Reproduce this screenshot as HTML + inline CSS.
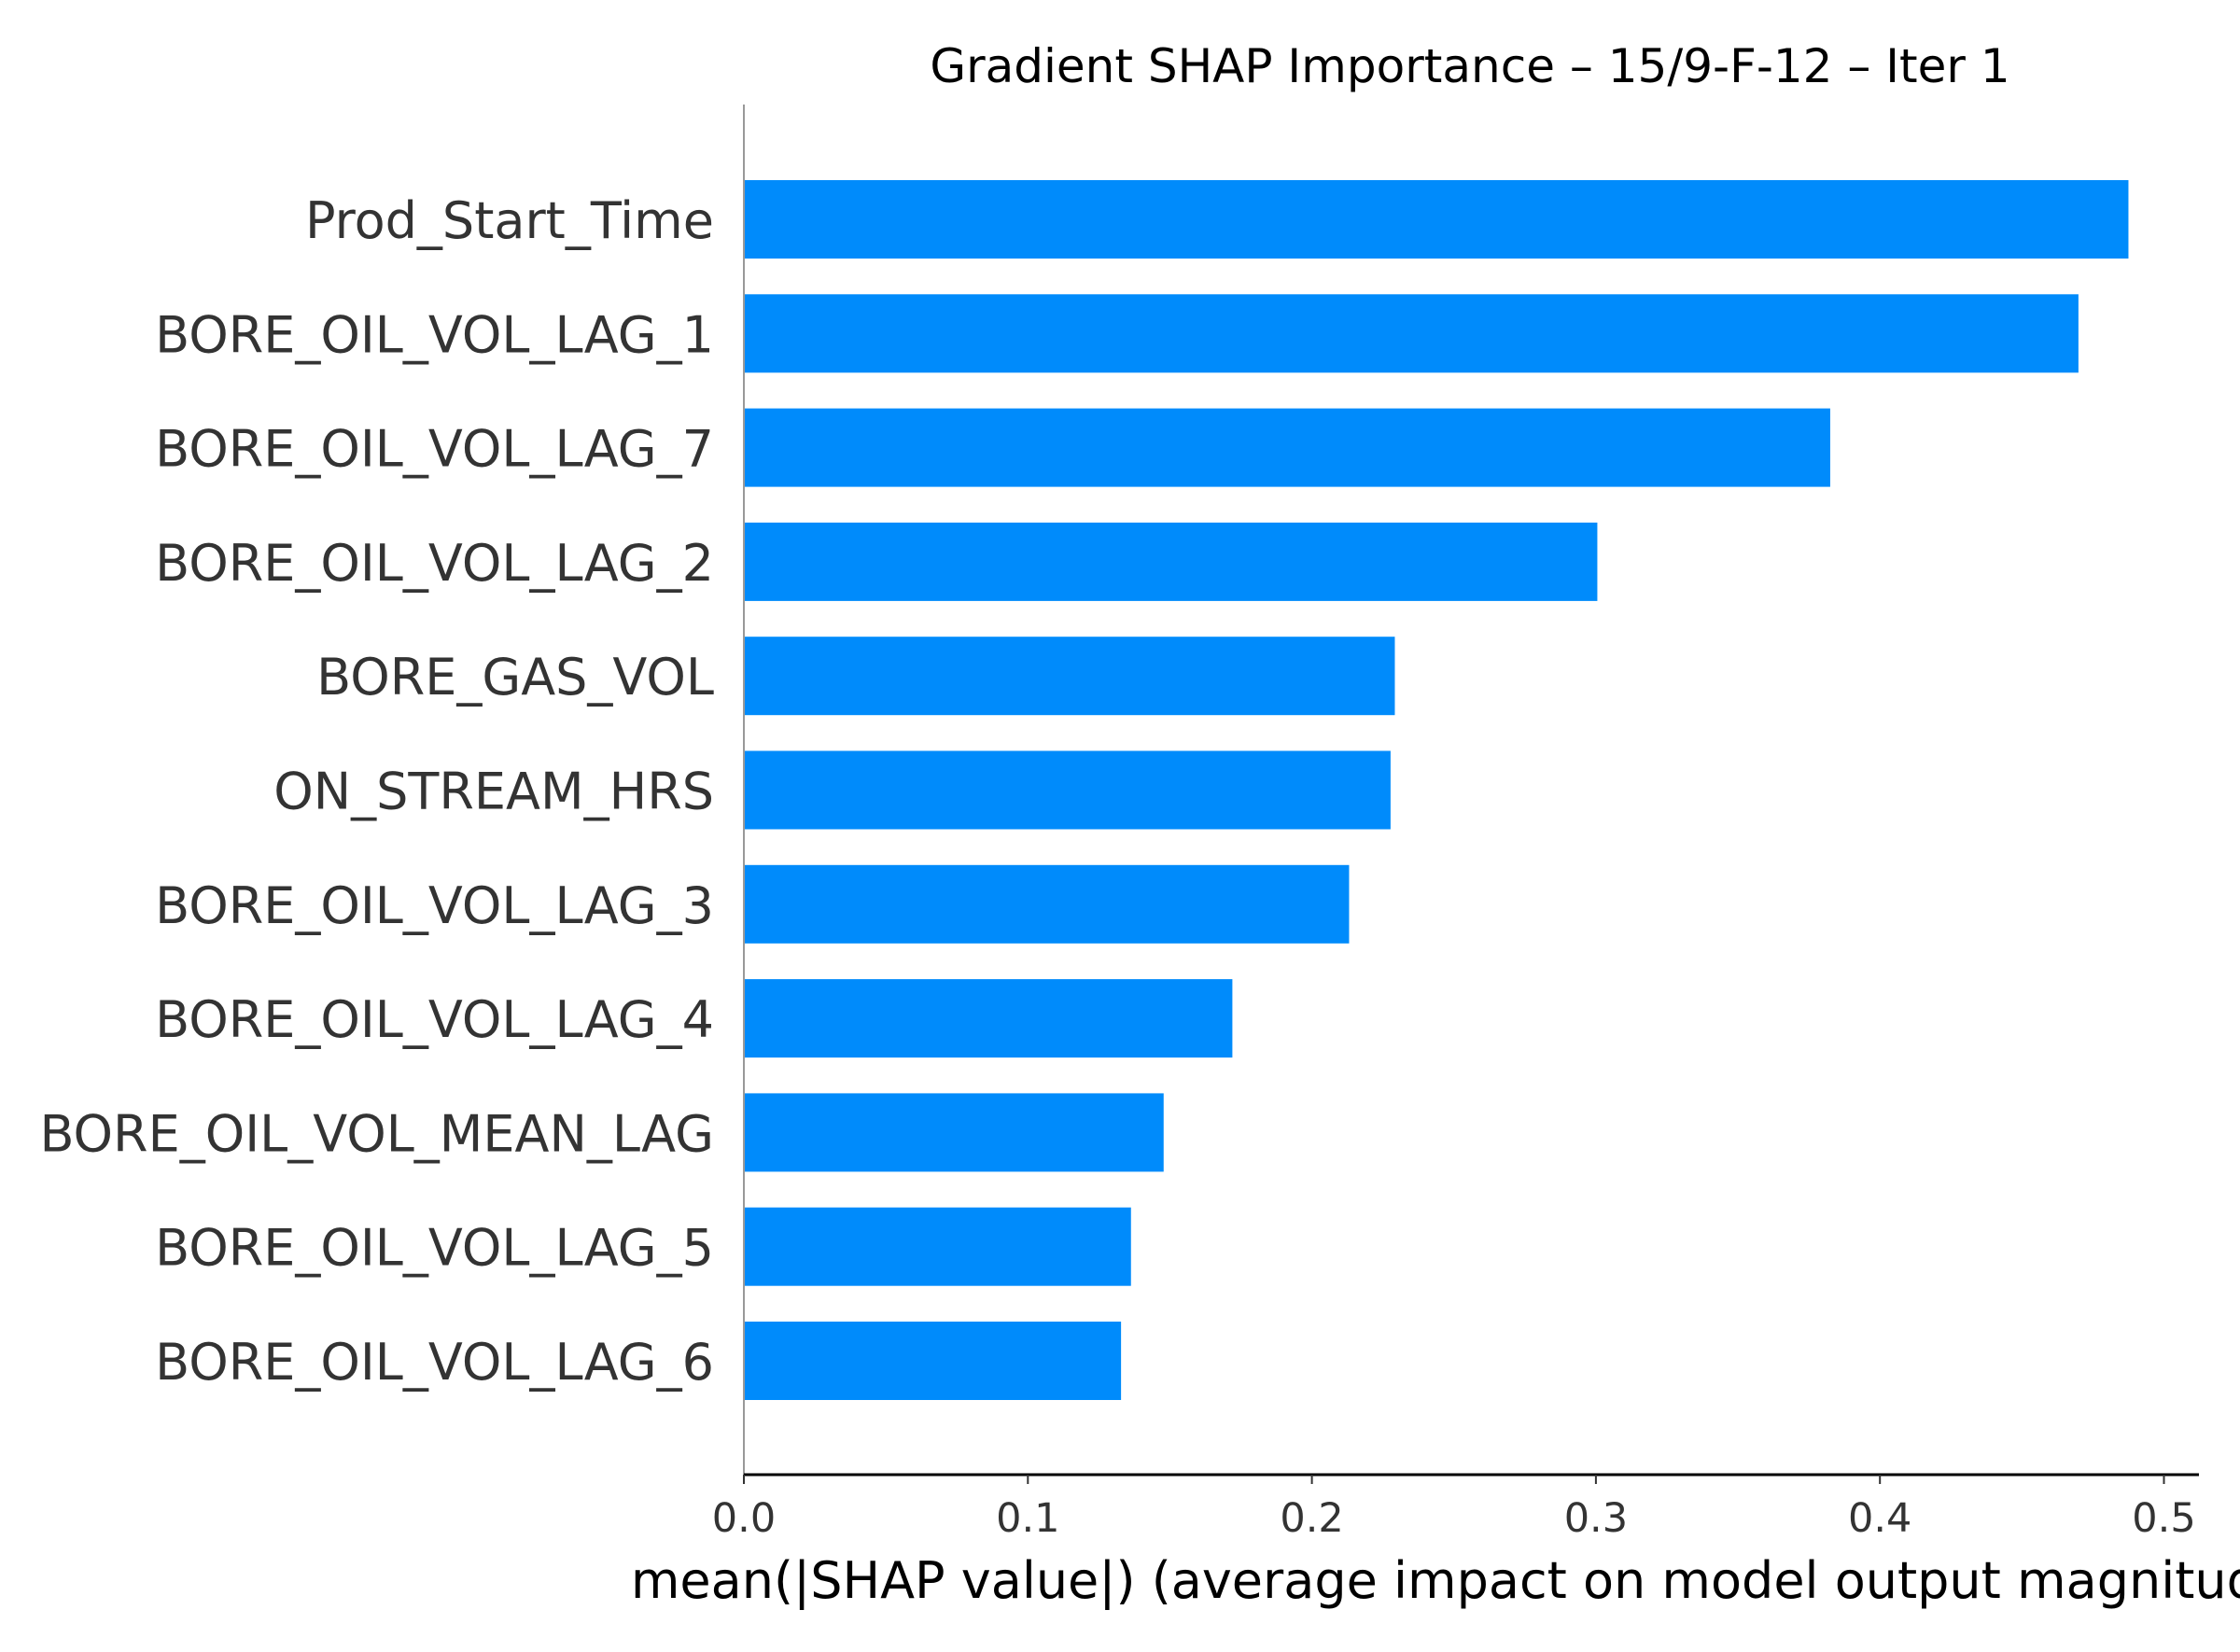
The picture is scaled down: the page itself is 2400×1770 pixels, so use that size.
<!DOCTYPE html>
<html><head><meta charset="utf-8"><style>body{margin:0;background:#fff}svg{display:block}</style></head>
<body>
<svg id="chart" width="2400" height="1770" xmlns="http://www.w3.org/2000/svg" font-family="'DejaVu Sans','Liberation Sans',sans-serif">
<text x="1575" y="88" font-size="50" text-anchor="middle" fill="#000">Gradient SHAP Importance – 15/9-F-12 – Iter 1</text>
<g id="bars"></g>
<g id="axes"></g>
<text x="1575" y="1712" font-size="54" text-anchor="middle" fill="#000">mean(|SHAP value|) (average impact on model output magnitude)</text>
</svg>
<script>
const features = ["Prod_Start_Time","BORE_OIL_VOL_LAG_1","BORE_OIL_VOL_LAG_7","BORE_OIL_VOL_LAG_2","BORE_GAS_VOL","ON_STREAM_HRS","BORE_OIL_VOL_LAG_3","BORE_OIL_VOL_LAG_4","BORE_OIL_VOL_MEAN_LAG","BORE_OIL_VOL_LAG_5","BORE_OIL_VOL_LAG_6"];
const values = [0.4875,0.4699,0.3825,0.3005,0.2292,0.2277,0.2131,0.1720,0.1478,0.1363,0.1328];
const ticks = [0.0,0.1,0.2,0.3,0.4,0.5];
const tickLabels = ["0.0","0.1","0.2","0.3","0.4","0.5"];

const NS="http://www.w3.org/2000/svg";
const x0=797, pxPerUnit=3043;
const xs=v=>x0+v*pxPerUnit;
const yTop=235, step=122.3, barH=84;
const ys=i=>yTop+i*step;
function mk(tag,attrs,parent){const e=document.createElementNS(NS,tag);for(const k in attrs)e.setAttribute(k,attrs[k]);parent.appendChild(e);return e;}
const bars=document.getElementById('bars'), axes=document.getElementById('axes');
features.forEach((f,i)=>{
  const r=mk('rect',{x:x0,y:ys(i)-barH/2,width:xs(values[i])-x0,height:barH,fill:'#008bfb'},bars);
  
  
  const t=mk('text',{x:765,y:ys(i)+20,'font-size':54,'text-anchor':'end',fill:'#333'},bars);
  t.textContent=f;
  
  
});
const spine=mk('line',{x1:x0,y1:112,x2:x0,y2:1580,stroke:'#999','stroke-width':2},axes);


const xaxis=mk('line',{x1:x0,y1:1580,x2:2356,y2:1580,stroke:'#000','stroke-width':3},axes);


ticks.forEach((v,i)=>{
  const l=mk('line',{x1:xs(v),y1:1580,x2:xs(v),y2:1590,stroke:'#333','stroke-width':2},axes);
  
  
  const t=mk('text',{x:xs(v),y:1641,'font-size':43,'text-anchor':'middle',fill:'#333'},axes);
  t.textContent=tickLabels[i];
  
  
});
</script>
</body></html>
